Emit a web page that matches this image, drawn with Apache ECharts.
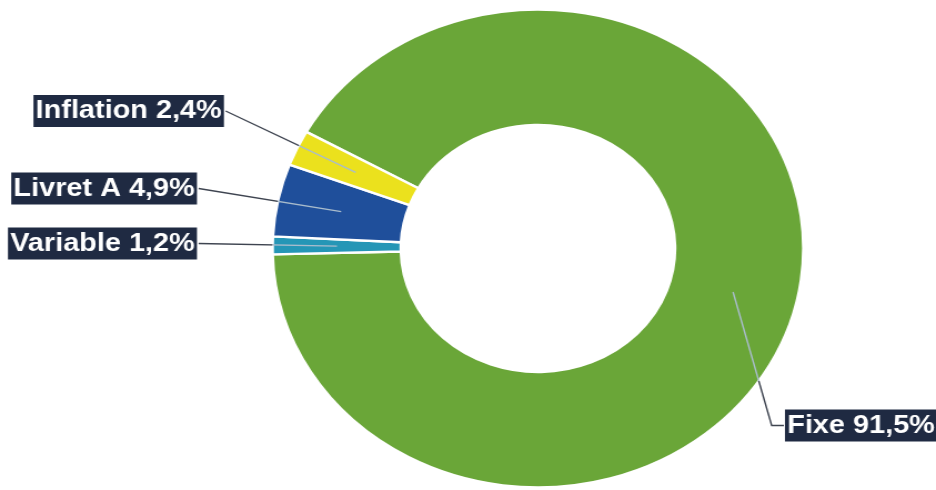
<!DOCTYPE html>
<html lang="fr">
<head>
<meta charset="utf-8">
<title>Répartition des taux</title>
<script src="https://cdn.jsdelivr.net/npm/echarts@6/dist/echarts.min.js"></script>
<style>
  html, body { margin: 0; padding: 0; background: #ffffff; overflow: hidden; }
  /* the chart is drawn on a narrower canvas and widened horizontally */
  #chart { width: 843px; height: 490px; transform: scaleX(1.1103); transform-origin: 0 0; }
</style>
</head>
<body>
<div id="chart"></div>
<script>
// Breakdown of the debt by rate type (share in %)
const categories = ['Fixe', 'Variable', 'Livret A', 'Inflation'];
const shares = [91.5, 1.2, 4.9, 2.4];

// Styling
const sliceColors = ['#6aa638', '#2596b6', '#1f4f9b', '#ebe11d'];
const labelBg = '#1f2a42';
const guideLight = '#a9bccc';
const guideDark = '#3e4450';

const CENTER = [484.5, 248.5];
const OUTER_R = 239;
const INNER_R = 123.5;
const GUIDE_R = 181;

// Where each label box is anchored (chart pixels) and which side the text sits on
const LABEL_ANCHORS = [
  { x: 707, y: 425.5, align: 'left', bend: 11 },
  { x: 177.4, y: 243.5, align: 'right' },
  { x: 177.4, y: 188.5, align: 'right' },
  { x: 201.7, y: 111, align: 'right' }
];

function fmtPercent(v) {
  return v.toFixed(1).replace('.', ',') + '%';
}

const data = categories.map((name, i) => ({ name: name, value: shares[i] }));

const guideStarts = [];

function guidePoints(i, start) {
  const a = LABEL_ANCHORS[i];
  const end = a.align === 'right' ? [a.x + 1.5, a.y] : [a.x - 1, a.y];
  if (a.bend) {
    return [start, [end[0] - a.bend, end[1]], end];
  }
  return [start, end];
}

function layoutLabel(p) {
  const i = p.dataIndex;
  const a = LABEL_ANCHORS[i];
  const res = { x: a.x, y: a.y, align: a.align, verticalAlign: 'middle' };
  if (p.labelLinePoints && p.labelLinePoints.length) {
    const start = guideStarts[i] || p.labelLinePoints[0];
    guideStarts[i] = start;
    res.labelLinePoints = guidePoints(i, start);
  }
  return res;
}

// Colour of a guide line: light where it runs over the ring, dark outside it
function guideColor(i) {
  const start = guideStarts[i];
  if (!start) return guideDark;
  const pts = guidePoints(i, start);
  const s = pts[0], t = pts[1];
  const d = [t[0] - s[0], t[1] - s[1]];
  const f = [s[0] - CENTER[0], s[1] - CENTER[1]];
  const A = d[0] * d[0] + d[1] * d[1];
  const B = 2 * (f[0] * d[0] + f[1] * d[1]);
  const C = f[0] * f[0] + f[1] * f[1] - OUTER_R * OUTER_R;
  let k = (-B + Math.sqrt(Math.max(0, B * B - 4 * A * C))) / (2 * A);
  k = Math.min(1, Math.max(0, k));
  return new echarts.graphic.LinearGradient(s[0], s[1], t[0], t[1], [
    { offset: 0, color: guideLight },
    { offset: k, color: guideLight },
    { offset: Math.min(1, k + 0.001), color: guideDark },
    { offset: 1, color: guideDark }
  ], true);
}

const chart = echarts.init(document.getElementById('chart'), null, { renderer: 'canvas' });

function buildOption() {
  return {
    animation: false,
    backgroundColor: '#ffffff',
    series: [
      {
        type: 'pie',
        z: 2,
        center: CENTER,
        radius: [INNER_R, OUTER_R],
        startAngle: 150.8,
        clockwise: true,
        silent: true,
        label: { show: false },
        labelLine: { show: false },
        itemStyle: {
          borderColor: '#ffffff',
          borderWidth: 2.4,
          color: (p) => sliceColors[p.dataIndex]
        },
        data: data
      },
      {
        // transparent copy carrying the labels and their guide lines, drawn above the ring
        type: 'pie',
        z: 5,
        center: CENTER,
        radius: [0, GUIDE_R],
        startAngle: 150.8,
        clockwise: true,
        silent: true,
        avoidLabelOverlap: false,
        itemStyle: { color: 'rgba(0,0,0,0)' },
        label: {
          show: true,
          position: 'outside',
          formatter: (p) => p.name + ' ' + fmtPercent(p.value),
          color: '#ffffff',
          fontFamily: '"Liberation Sans", Arial, sans-serif',
          fontWeight: 'bold',
          fontSize: 26,
          lineHeight: 30,
          backgroundColor: labelBg,
          padding: [1, 2, 1, 2]
        },
        labelLine: {
          show: true,
          length: 20,
          length2: 10,
          lineStyle: { width: 1.4, color: guideDark }
        },
        labelLayout: layoutLabel,
        data: data.map((d, i) => ({
          name: d.name,
          value: d.value,
          labelLine: { lineStyle: { color: guideColor(i) } }
        }))
      }
    ]
  };
}

chart.setOption(buildOption());
// second pass: guide start points are known now, so the two-tone lines can be set
chart.setOption(buildOption());
</script>
</body>
</html>
